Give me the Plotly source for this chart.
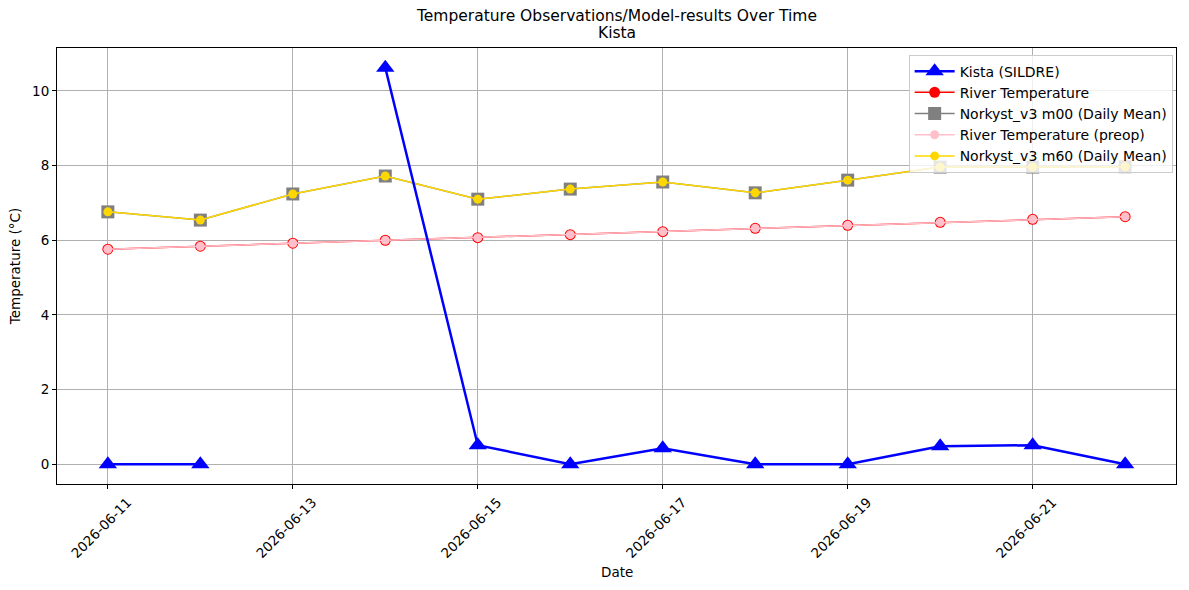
import plotly.graph_objects as go

dates = ["2026-06-11", "2026-06-12", "2026-06-13", "2026-06-14", "2026-06-15", "2026-06-16",
         "2026-06-17", "2026-06-18", "2026-06-19", "2026-06-20", "2026-06-21", "2026-06-22"]
kista_sildre = [0.0, 0.0, None, 10.62, 0.51, 0.0, 0.43, 0.0, 0.0, 0.48, 0.51, 0.0]
river_temp = [5.76, 5.84, 5.92, 6.00, 6.07, 6.15, 6.23, 6.32, 6.40, 6.48, 6.56, 6.63]
river_temp_preop = [5.76, 5.84, 5.92, 6.00, 6.07, 6.15, 6.23, 6.32, 6.40, 6.48, 6.56, 6.63]
norkyst_m00 = [6.76, 6.54, 7.24, 7.72, 7.10, 7.37, 7.56, 7.27, 7.61, 7.96, 7.96, 7.97]
norkyst_m60 = [6.76, 6.54, 7.24, 7.72, 7.10, 7.37, 7.56, 7.27, 7.61, 7.96, 7.96, 7.97]

tick_vals = ["2026-06-11", "2026-06-13", "2026-06-15", "2026-06-17", "2026-06-19", "2026-06-21"]

FONT = "DejaVu Sans"
fig = go.Figure()

fig.add_trace(go.Scatter(x=dates, y=river_temp, name="River Temperature", mode="lines+markers",
                         line=dict(color="red", width=1.5),
                         marker=dict(symbol="circle", size=11, color="red"), legendrank=2))
fig.add_trace(go.Scatter(x=dates, y=norkyst_m00, name="Norkyst_v3 m00 (Daily Mean)", mode="lines+markers",
                         line=dict(color="gray", width=1.5),
                         marker=dict(symbol="square", size=13, color="gray"), legendrank=3))
fig.add_trace(go.Scatter(x=dates, y=river_temp_preop, name="River Temperature (preop)", mode="lines+markers",
                         line=dict(color="pink", width=1.5),
                         marker=dict(symbol="circle", size=9, color="pink"), legendrank=4))
fig.add_trace(go.Scatter(x=dates, y=norkyst_m60, name="Norkyst_v3 m60 (Daily Mean)", mode="lines+markers",
                         line=dict(color="gold", width=1.5),
                         marker=dict(symbol="circle", size=9, color="gold"), legendrank=5))
fig.add_trace(go.Scatter(x=dates, y=kista_sildre, name="Kista (SILDRE)", mode="lines+markers",
                         line=dict(color="blue", width=2.5),
                         marker=dict(symbol="triangle-up", size=16, color="blue"), legendrank=1))

annotations = [
    dict(text="Temperature Observations/Model-results Over Time", xref="paper", yref="paper",
         x=0.5, y=1.0734, xanchor="center", yanchor="middle", showarrow=False,
         font=dict(family=FONT, size=15.5)),
    dict(text="Kista", xref="paper", yref="paper",
         x=0.5, y=1.0344, xanchor="center", yanchor="middle", showarrow=False,
         font=dict(family=FONT, size=15.5)),
    dict(text="Date", xref="paper", yref="paper",
         x=0.5, y=-0.2018, xanchor="center", yanchor="middle", showarrow=False,
         font=dict(family=FONT, size=13.5)),
]
for t in tick_vals:
    annotations.append(dict(text=t, xref="x", yref="paper", x=t, y=-0.101,
                            xanchor="center", yanchor="middle", textangle=-45, xshift=-7,
                            showarrow=False, font=dict(family=FONT, size=13.5)))

fig.update_layout(
    width=1189, height=590,
    margin=dict(l=57, r=13, t=48, b=106),
    paper_bgcolor="white", plot_bgcolor="white",
    font=dict(family=FONT, size=13.5, color="black"),
    annotations=annotations,
    legend=dict(x=0.997, y=0.985, xanchor="right", yanchor="top",
                bgcolor="rgba(255,255,255,0.8)", bordercolor="#cccccc", borderwidth=1,
                font=dict(family=FONT, size=14), tracegroupgap=0, itemwidth=40),
    showlegend=True,
)
fig.update_xaxes(
    type="date", range=["2026-06-10 10:48", "2026-06-22 13:12"],
    tickvals=tick_vals, showticklabels=False,
    showgrid=True, gridcolor="#b0b0b0", gridwidth=0.8,
    showline=True, linecolor="black", linewidth=1, mirror=True,
    ticks="outside", ticklen=4, tickcolor="black", zeroline=False,
)
fig.update_yaxes(
    range=[-0.53, 11.15], tickvals=[0, 2, 4, 6, 8, 10],
    showgrid=True, gridcolor="#b0b0b0", gridwidth=0.8,
    showline=True, linecolor="black", linewidth=1, mirror=True,
    ticks="outside", ticklen=4, tickcolor="black",
    title=dict(text="Temperature (°C)", standoff=8, font=dict(size=13.5)), zeroline=False,
)

fig.write_html("out.html")
